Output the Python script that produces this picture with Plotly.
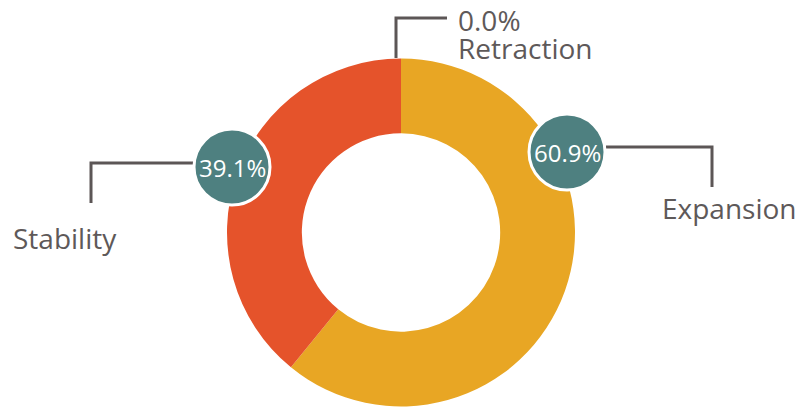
import plotly.graph_objects as go

# Share of outcomes
categories = ["Expansion", "Stability", "Retraction"]
shares = [60.9, 39.1, 0.0]
slice_colors = ["#E8A624", "#E5532B", "#C9C9C9"]

W, H = 800, 409
cx, cy, R = 401, 232.5, 174   # donut centre and outer radius in px
hole = 0.57

fig = go.Figure()
fig.add_trace(go.Pie(
    labels=categories,
    values=shares,
    sort=False,
    direction="clockwise",
    rotation=0,
    hole=hole,
    marker=dict(colors=slice_colors, line=dict(width=0)),
    textinfo="none",
    hoverinfo="label+percent",
    showlegend=False,
    domain=dict(x=[(cx - R) / W, (cx + R) / W],
                y=[(H - cy - R) / H, (H - cy + R) / H]),
))

teal = "#4E8080"
line_col = "#5C5656"
text_col = "#5E5959"
font = "Open Sans, Lato, sans-serif"

shapes = []
annotations = []

# Label placement for each category: badge centre (None = no badge),
# leader path, label text position
layout_spec = {
    "Expansion": dict(badge=(567, 152), path="M 606 147 L 712 147 L 712 187",
                      label=(729, 208)),
    "Stability": dict(badge=(232, 167), path="M 194 163 L 91 163 L 91 203",
                      label=(65, 238)),
    "Retraction": dict(badge=None, path="M 396 58 L 396 18 L 447 18",
                       label=(456, 20)),
}

rb = 38
for name, val in zip(categories, shares):
    spec = layout_spec[name]
    pct = f"{val:.1f}%"
    shapes.append(dict(type="path", path=spec["path"], xref="x", yref="y",
                       line=dict(color=line_col, width=3), layer="below"))
    lx, ly = spec["label"]
    if spec["badge"] is not None:
        bx, by = spec["badge"]
        shapes.append(dict(type="circle", xref="x", yref="y",
                           x0=bx - rb, x1=bx + rb, y0=by - rb, y1=by + rb,
                           fillcolor=teal, line=dict(color="white", width=3),
                           layer="above"))
        annotations.append(dict(x=bx, y=by, xref="x", yref="y", text=pct,
                                showarrow=False,
                                font=dict(family=font, size=24, color="white")))
        annotations.append(dict(x=lx, y=ly, xref="x", yref="y", text=name,
                                showarrow=False, xanchor="center",
                                font=dict(family=font, size=28, color=text_col)))
    else:
        annotations.append(dict(x=lx, y=ly, xref="x", yref="y", text=pct,
                                showarrow=False, xanchor="left",
                                font=dict(family=font, size=28, color=text_col)))
        annotations.append(dict(x=lx, y=ly + 28, xref="x", yref="y", text=name,
                                showarrow=False, xanchor="left",
                                font=dict(family=font, size=28, color=text_col)))

fig.update_layout(
    width=W, height=H,
    margin=dict(l=0, r=0, t=0, b=0),
    paper_bgcolor="white", plot_bgcolor="rgba(0,0,0,0)",
    xaxis=dict(range=[0, W], visible=False, fixedrange=True),
    yaxis=dict(range=[H, 0], visible=False, fixedrange=True),
    shapes=shapes,
    annotations=annotations,
)

fig.write_html("out.html")
